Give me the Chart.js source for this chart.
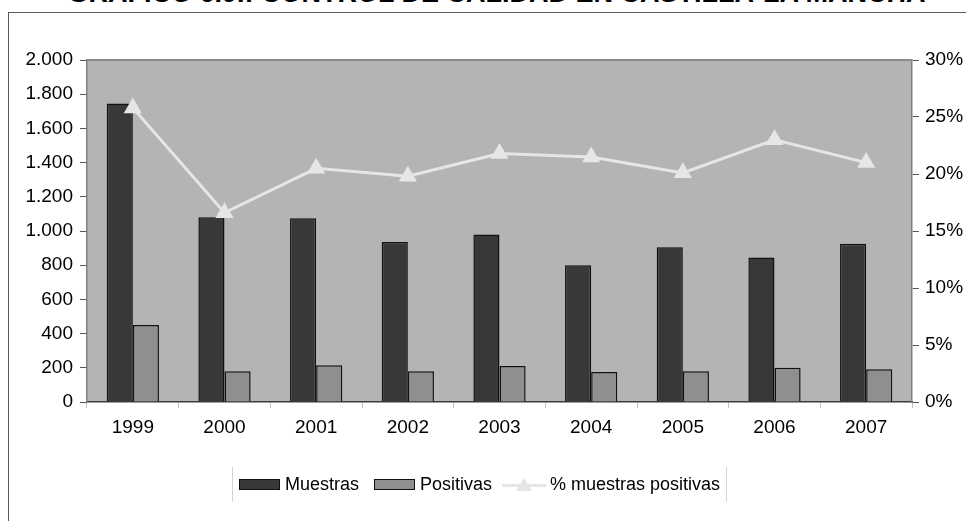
<!DOCTYPE html>
<html lang="es">
<head>
<meta charset="utf-8">
<title>Control de calidad en Castilla-La Mancha</title>
<script src="https://cdn.jsdelivr.net/npm/chart.js@4.4.1/dist/chart.umd.min.js"></script>
<style>
  html, body { margin: 0; padding: 0; background: #fff; overflow: hidden; }
  body { width: 966px; height: 521px; position: relative; font-family: "Liberation Sans", Arial, sans-serif; }
  #frame { position: absolute; left: 8px; top: 12px; width: 1100px; height: 700px; border: 1.5px solid #5a5a5a; box-sizing: border-box; }
  #title { position: absolute; left: 0; width: 993px; top: -22px; text-align: center; font: bold 27px "Liberation Sans", Arial, sans-serif; color: #000; white-space: nowrap; }
  #chart { position: absolute; left: 0; top: 0; }
  #legend { position: absolute; left: 232px; top: 467px; width: 495px; height: 35px; box-sizing: border-box;
            border-left: 1px solid #d4d4d4; border-right: 1px solid #d4d4d4;
            display: flex; align-items: center; padding-left: 6px; font-size: 18px; color: #000; }
  #legend > span { flex-shrink: 0; }
  #legend .sw { width: 41px; height: 11px; box-sizing: border-box; border: 1.5px solid #111; margin-right: 5px; }
  #legend .txt { margin-right: 15px; white-space: nowrap; }
  #legend .txt.before-line { margin-right: 10px; }
  #legend .ln { position: relative; width: 44px; height: 20px; margin-right: 4px; }
  #legend .ln .bar { position: absolute; left: 0; right: 0; top: 9px; height: 3px; }
  #legend .ln .tri { position: absolute; left: 14px; top: 3px; width: 0; height: 0;
                     border-left: 8px solid transparent; border-right: 8px solid transparent; border-bottom: 13px solid; }
</style>
</head>
<body>
<div id="frame"></div>
<div id="title">GRÁFICO 6.9.: CONTROL DE CALIDAD EN CASTILLA-LA MANCHA</div>
<canvas id="chart" width="966" height="521"></canvas>
<div id="legend"></div>
<script>
/* Gráfico: muestras analizadas, positivas y % de positivas por año */

const years     = ['1999', '2000', '2001', '2002', '2003', '2004', '2005', '2006', '2007'];
const muestras  = [1745, 1080, 1075, 935, 980, 800, 905, 845, 925];
const positivas = [450, 180, 215, 180, 210, 175, 180, 200, 192];
const pctPositivas = [25.8, 16.6, 20.5, 19.8, 21.8, 21.5, 20.1, 23.0, 21.0];

const leftTicks  = [0, 200, 400, 600, 800, 1000, 1200, 1400, 1600, 1800, 2000];
const rightTicks = [0, 5, 10, 15, 20, 25, 30];

const C_MUESTRAS  = '#383838';
const C_POSITIVAS = '#8f8f8f';
const C_LINEA     = '#e6e6e6';
const C_FONDO     = '#b4b4b4';

const fmtMiles = v => String(v).replace(/\B(?=(\d{3})+(?!\d))/g, '.');

// fondo gris del área de trazado y borde superior
const plotBg = {
  id: 'plotBg',
  beforeDraw(chart) {
    const { ctx, chartArea: a } = chart;
    ctx.save();
    ctx.fillStyle = C_FONDO;
    ctx.fillRect(a.left, a.top, a.right - a.left, a.bottom - a.top);
    ctx.restore();
  },
  afterDatasetsDraw(chart) {
    const { ctx, chartArea: a } = chart;
    ctx.save();
    ctx.strokeStyle = '#8a8a8a';
    ctx.lineWidth = 2;
    ctx.beginPath();
    ctx.moveTo(a.left, a.top);
    ctx.lineTo(a.right, a.top);
    ctx.stroke();
    ctx.restore();
  },
};

const tickFont = { family: '"Liberation Sans", Arial, sans-serif', size: 19 };

const chart = new Chart(document.getElementById('chart'), {
  type: 'bar',
  data: {
    labels: years,
    datasets: [
      {
        label: 'Muestras',
        data: muestras,
        backgroundColor: C_MUESTRAS,
        borderColor: '#111',
        borderWidth: 1.5,
        yAxisID: 'y',
        categoryPercentage: 0.57,
        barPercentage: 1.0,
        order: 1,
      },
      {
        label: 'Positivas',
        data: positivas,
        backgroundColor: C_POSITIVAS,
        borderColor: '#111',
        borderWidth: 1.5,
        yAxisID: 'y',
        categoryPercentage: 0.57,
        barPercentage: 1.0,
        order: 1,
      },
      {
        label: '% muestras positivas',
        type: 'line',
        data: pctPositivas,
        borderColor: C_LINEA,
        backgroundColor: C_LINEA,
        borderWidth: 3,
        pointStyle: 'triangle',
        pointRadius: 10.5,
        pointBackgroundColor: C_LINEA,
        pointBorderColor: C_LINEA,
        pointBorderWidth: 0,
        tension: 0,
        yAxisID: 'y1',
        order: 0,
      },
    ],
  },
  options: {
    responsive: false,
    animation: false,
    layout: { padding: { top: 60, left: 0, right: 0, bottom: 79 } },
    plugins: {
      legend: { display: false },
      title: { display: false },
      tooltip: { enabled: false },
    },
    scales: {
      x: {
        afterFit: s => { s.height = 40; },
        grid: { offset: true, drawOnChartArea: false, tickLength: 6, color: '#c4c4c4' },
        border: { color: '#3c3c3c', width: 1.5 },
        ticks: { color: '#000', font: tickFont, padding: 8 },
      },
      y: {
        position: 'left',
        min: 0, max: 2000,
        afterFit: s => { s.width = 87; },
        afterBuildTicks: s => { s.ticks = leftTicks.map(v => ({ value: v })); },
        grid: { drawOnChartArea: false, tickLength: 7, color: '#555' },
        border: { color: '#808080', width: 1.5 },
        ticks: { color: '#000', font: tickFont, padding: 7, callback: v => fmtMiles(v) },
      },
      y1: {
        position: 'right',
        min: 0, max: 30,
        afterFit: s => { s.width = 54; },
        afterBuildTicks: s => { s.ticks = rightTicks.map(v => ({ value: v })); },
        grid: { drawOnChartArea: false, tickLength: 7, color: '#555' },
        border: { color: '#808080', width: 1.5 },
        ticks: { color: '#000', font: tickFont, padding: 6, callback: v => v + '%' },
      },
    },
  },
  plugins: [plotBg],
});

// leyenda en HTML a partir de los datasets
const legendEl = document.getElementById('legend');
chart.data.datasets.forEach((ds, i, all) => {
  if (ds.type === 'line') {
    const ln = document.createElement('span');
    ln.className = 'ln';
    ln.innerHTML = '<span class="bar"></span><span class="tri"></span>';
    ln.querySelector('.bar').style.background = ds.borderColor;
    ln.querySelector('.tri').style.borderBottomColor = ds.pointBackgroundColor;
    legendEl.appendChild(ln);
  } else {
    const sw = document.createElement('span');
    sw.className = 'sw';
    sw.style.background = ds.backgroundColor;
    legendEl.appendChild(sw);
  }
  const t = document.createElement('span');
  t.className = 'txt' + (all[i + 1] && all[i + 1].type === 'line' ? ' before-line' : '');
  t.textContent = ds.label;
  legendEl.appendChild(t);
});
</script>
</body>
</html>
